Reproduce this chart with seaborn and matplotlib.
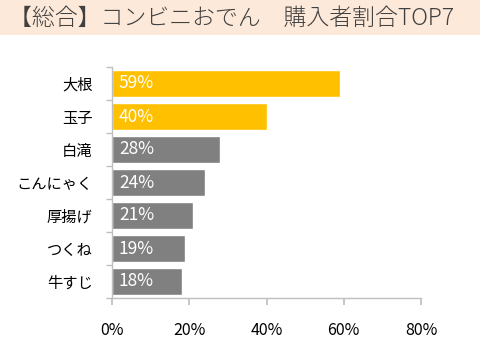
import matplotlib
matplotlib.use("Agg")
import matplotlib.pyplot as plt
import seaborn as sns
import pandas as pd
from matplotlib.ticker import FixedLocator

categories = ["大根", "玉子", "白滝", "こんにゃく", "厚揚げ", "つくね", "牛すじ"]
values = [59, 40, 28, 24, 21, 19, 18]
groups = ["top", "top", "rest", "rest", "rest", "rest", "rest"]
xticks = [0, 20, 40, 60, 80]
title = "【総合】コンビニおでん　購入者割合TOP7"

sns.set_theme(style="white")
plt.rcParams["font.family"] = ["Noto Sans CJK JP", "DejaVu Sans"]

df = pd.DataFrame({"cat": categories, "val": values, "grp": groups})

fig = plt.figure(figsize=(4.8, 3.44), dpi=100)
fig.patch.set_facecolor("white")
# title band
fig.patches.append(plt.Rectangle((0, 1 - 35 / 344), 1, 35 / 344, transform=fig.transFigure,
                                 facecolor="#FDE9D9", edgecolor="none", zorder=0))
fig.text(0.018, 1 - 18 / 344, title, fontsize=16.5, color="#404040", va="center", ha="left",
         fontweight="light")

ax = fig.add_axes([112 / 480, 1 - 298 / 344, (421 - 112) / 480, (298 - 67) / 344])
sns.barplot(data=df, x="val", y="cat", hue="grp", palette={"top": "#FFC000", "rest": "#808080"},
            dodge=False, legend=False, width=0.84, ax=ax, saturation=1)
ax.set_xlim(0, 80)
ax.set_ylim(len(categories) - 0.5, -0.5)
ax.set_xticks(xticks)
ax.set_xticklabels([f"{t}%" for t in xticks])
ax.set_xlabel("")
ax.set_ylabel("")
for s in ["top", "right"]:
    ax.spines[s].set_visible(False)
for s in ["left", "bottom"]:
    ax.spines[s].set_color("#BFBFBF")
    ax.spines[s].set_linewidth(1)
ax.tick_params(axis="y", length=0, labelsize=11, pad=14, colors="#000000")
ax.yaxis.set_minor_locator(FixedLocator([i - 0.5 for i in range(len(categories) + 1)]))
ax.tick_params(axis="y", which="minor", length=4, color="#BFBFBF", left=True)
ax.tick_params(axis="x", length=5, color="#BFBFBF", labelsize=11.5, pad=12, labelcolor="#000000", bottom=True)

for i, v in enumerate(values):
    ax.text(1.8, i, f"{v}%", color="white", fontsize=12.5, va="center", ha="left")

fig.savefig("out.png", dpi=100)
